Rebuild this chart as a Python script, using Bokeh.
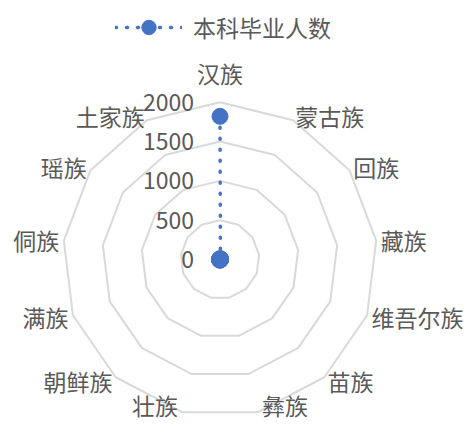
import numpy as np
from bokeh.plotting import figure
from bokeh.models import Range1d, Legend, LegendItem, ColumnDataSource
from bokeh.core.properties import value
from bokeh.embed import file_html
from bokeh.resources import INLINE

categories = ["汉族", "蒙古族", "回族", "藏族", "维吾尔族", "苗族", "彝族",
              "壮族", "朝鲜族", "满族", "侗族", "瑶族", "土家族"]
graduates = [1820, 12, 8, 6, 5, 7, 6, 9, 4, 8, 5, 4, 10]
ring_values = [500, 1000, 1500, 2000]
tick_values = [0, 500, 1000, 1500, 2000]
tick_labels = ["0", "500", "1000", "1500", "2000"]
series_name = "本科毕业人数"

FONT = "Noto Sans CJK SC"
TXT = "#595959"
BLUE = "#4472C4"
GRID = "#D9D9D9"

W, H = 469, 428
k = 157.3 / 2000.0          # pixels per data unit
cx, cy = 219.5, 259.0       # chart centre in figure pixels

p = figure(width=W, height=H, output_backend="svg", toolbar_location=None,
           x_range=Range1d(-cx / k, (W - cx) / k),
           y_range=Range1d(-(H - cy) / k, cy / k),
           min_border=0)
p.axis.visible = False
p.grid.visible = False
p.outline_line_color = None
p.background_fill_color = "white"
p.border_fill_color = "white"

n = len(categories)
ang = np.arange(n) * 2 * np.pi / n
s, c = np.sin(ang), np.cos(ang)

# rings
for rv in ring_values:
    xs = list(rv * s) + [rv * s[0]]
    ys = list(rv * c) + [rv * c[0]]
    p.line(xs, ys, line_color=GRID, line_width=2)

# series
vals = np.array(graduates, dtype=float)
lr = p.line(vals * s, vals * c, line_color=BLUE, line_width=3.5,
            line_dash="1 10", line_cap="round")
sr = p.scatter(vals * s, vals * c, size=16, color=BLUE)

# category labels
lab_r = 162 / k
low_r = 150 / k
top_r = 170 / k
lx, ly, al, bl = [], [], [], []
for i in range(n):
    if abs(s[i]) < 0.05 and c[i] > 0:
        lx.append(0.0); ly.append(top_r); al.append("center"); bl.append("bottom")
    else:
        r = low_r if c[i] < -0.9 else lab_r
        lx.append(r * s[i] + (6 / k) * np.sign(s[i]) * (c[i] < -0.9)); ly.append(r * c[i])
        al.append("left" if s[i] > 0 else "right"); bl.append("middle")
src = ColumnDataSource(dict(x=lx, y=ly, t=categories, a=al, b=bl))
p.text(x="x", y="y", text="t", text_align="a", text_baseline="b", source=src,
       text_font=value(FONT), text_font_size="23px", text_color=TXT)

# tick labels
p.text(x=[-26 / k] * len(tick_values), y=tick_values, text=tick_labels,
       text_align="right", text_baseline="middle",
       text_font=value(FONT), text_font_size="23px", text_color=TXT)

legend = Legend(items=[LegendItem(label=series_name, renderers=[lr, sr])],
                location=(115, 383), orientation="horizontal",
                glyph_width=67, glyph_height=36, label_height=36,
                label_standoff=11, padding=0, margin=0, spacing=0,
                border_line_color=None, background_fill_alpha=0,
                label_text_font=FONT, label_text_font_size="23px",
                label_text_color=TXT)
p.add_layout(legend)

open("out.html", "w").write(file_html(p, INLINE))
